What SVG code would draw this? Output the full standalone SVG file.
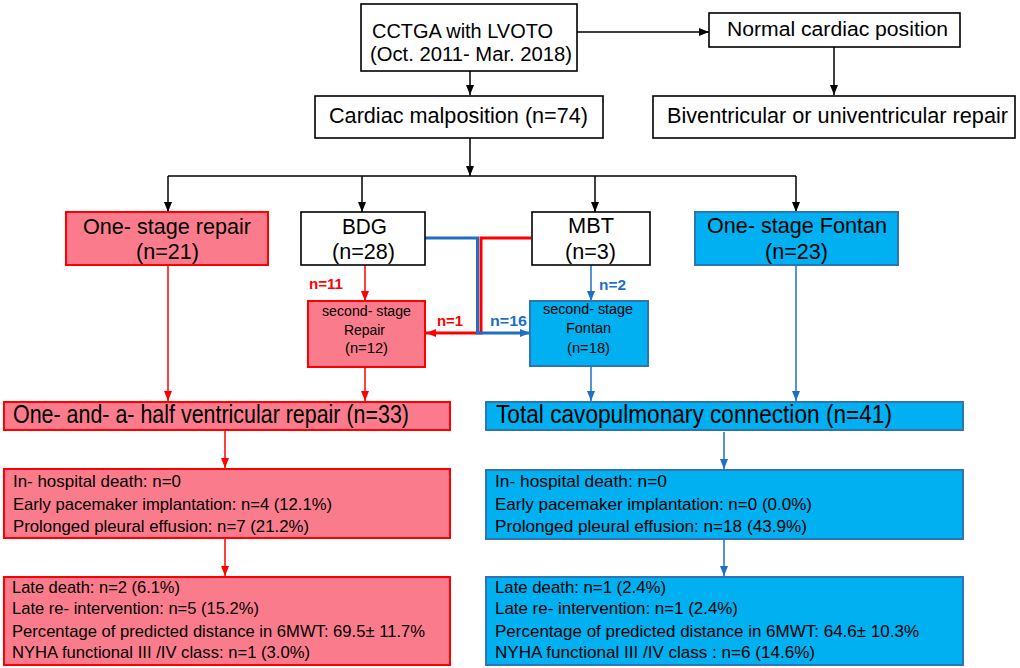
<svg xmlns="http://www.w3.org/2000/svg" width="1020" height="668" viewBox="0 0 1020 668">
<style>
text{font-family:"Liberation Sans",Arial,sans-serif;fill:#000}
.h{font-size:22px}
.t{font-size:20px}
.hh{font-size:25px}
.b{font-size:17px}
.s{font-size:14px}
.lb{font-size:14px;font-weight:bold}
.wbox{fill:#fff;stroke:#000;stroke-width:1.6}
.pbox{fill:#FA7C8C;stroke:#FF0000;stroke-width:2}
.bbox{fill:#00B0F0;stroke:#2E75B6;stroke-width:2}
.k{stroke:#000;stroke-width:1.5;fill:none}
.r{stroke:#FF0000;stroke-width:1.5;fill:none}
.bl{stroke:#1F6FC5;stroke-width:1.5;fill:none}
.r3{stroke:#FF0000;stroke-width:3;fill:none}
.bl3{stroke:#1F6FC5;stroke-width:3;fill:none}
</style>
<defs>
<marker id="ak" markerUnits="userSpaceOnUse" markerWidth="10" markerHeight="10" viewBox="0 0 10 10" refX="10" refY="5" orient="auto"><path d="M0,1 L10,5 L0,9 z" fill="#000"/></marker>
<marker id="ar" markerUnits="userSpaceOnUse" markerWidth="10" markerHeight="10" viewBox="0 0 10 10" refX="10" refY="5" orient="auto"><path d="M0,1 L10,5 L0,9 z" fill="#FF0000"/></marker>
<marker id="ab" markerUnits="userSpaceOnUse" markerWidth="10" markerHeight="10" viewBox="0 0 10 10" refX="10" refY="5" orient="auto"><path d="M0,1 L10,5 L0,9 z" fill="#1F6FC5"/></marker>
</defs>

<g id="connectors">
<path class="k" d="M470,64 V95" marker-end="url(#ak)"/>
<path class="k" d="M577,32 H709" marker-end="url(#ak)"/>
<path class="k" d="M834,47 V95" marker-end="url(#ak)"/>
<path class="k" d="M470,138 V176" marker-end="url(#ak)"/>
<path class="k" d="M168,176 H796"/>
<path class="k" d="M168,176 V212" marker-end="url(#ak)"/>
<path class="k" d="M362,176 V212" marker-end="url(#ak)"/>
<path class="k" d="M595,176 V212" marker-end="url(#ak)"/>
<path class="k" d="M796,176 V212" marker-end="url(#ak)"/>
<path class="r" d="M365,265 V301" marker-end="url(#ar)"/>
<path class="bl" d="M591,265 V301" marker-end="url(#ab)"/>
<path class="r3" d="M531,238 H481 V333 H426" marker-end="url(#ar)"/>
<path class="bl3" d="M425,238 H477.5 V333 H530" marker-end="url(#ab)"/>
<path class="r" d="M168,265 V401" marker-end="url(#ar)"/>
<path class="r" d="M365,367 V401" marker-end="url(#ar)"/>
<path class="bl" d="M591,366 V401" marker-end="url(#ab)"/>
<path class="bl" d="M796,265 V401" marker-end="url(#ab)"/>
<path class="r" d="M225,431 V468" marker-end="url(#ar)"/>
<path class="r" d="M225,539 V576" marker-end="url(#ar)"/>
<path class="bl" d="M724,432 V469" marker-end="url(#ab)"/>
<path class="bl" d="M724,540 V576" marker-end="url(#ab)"/>
<text class="lb" x="309" y="289" style="fill:#FF0000" textLength="34" lengthAdjust="spacingAndGlyphs">n=11</text>
<text class="lb" x="437" y="326" style="fill:#FF0000" textLength="26" lengthAdjust="spacingAndGlyphs">n=1</text>
<text class="lb" x="490" y="326" style="fill:#1F6FC5" textLength="37" lengthAdjust="spacingAndGlyphs">n=16</text>
<text class="lb" x="599" y="290" style="fill:#1F6FC5" textLength="27" lengthAdjust="spacingAndGlyphs">n=2</text>
</g>

<g id="cctga">
<rect class="wbox" x="361" y="4" width="216" height="67"/>
<text class="t" x="372" y="38" textLength="181" lengthAdjust="spacingAndGlyphs">CCTGA with LVOTO</text>
<text class="t" x="370" y="61" textLength="202" lengthAdjust="spacingAndGlyphs">(Oct. 2011- Mar. 2018)</text>
</g>

<g id="normal">
<rect class="wbox" x="709" y="13" width="251" height="34"/>
<text class="t" x="727" y="36" textLength="221" lengthAdjust="spacingAndGlyphs">Normal cardiac position</text>
</g>

<g id="malposition">
<rect class="wbox" x="315" y="96" width="288" height="42"/>
<text class="h" x="329" y="123" textLength="259" lengthAdjust="spacingAndGlyphs">Cardiac malposition (n=74)</text>
</g>

<g id="biventricular">
<rect class="wbox" x="653" y="96" width="362" height="42"/>
<text class="h" x="667" y="123" textLength="341" lengthAdjust="spacingAndGlyphs">Biventricular or univentricular repair</text>
</g>

<g id="one-stage-repair">
<rect class="pbox" x="66" y="212" width="202" height="53"/>
<text class="h" x="83" y="234" textLength="168" lengthAdjust="spacingAndGlyphs">One- stage repair</text>
<text class="h" x="136" y="259" textLength="63" lengthAdjust="spacingAndGlyphs">(n=21)</text>
</g>

<g id="bdg">
<rect class="wbox" x="301" y="212" width="124" height="53"/>
<text class="h" x="342" y="234" textLength="45" lengthAdjust="spacingAndGlyphs">BDG</text>
<text class="h" x="332" y="259" textLength="63" lengthAdjust="spacingAndGlyphs">(n=28)</text>
</g>

<g id="mbt">
<rect class="wbox" x="532" y="212" width="118" height="53"/>
<text class="h" x="568" y="233" textLength="46" lengthAdjust="spacingAndGlyphs">MBT</text>
<text class="h" x="565" y="259" textLength="51" lengthAdjust="spacingAndGlyphs">(n=3)</text>
</g>

<g id="one-stage-fontan">
<rect class="bbox" x="695" y="212" width="203" height="53"/>
<text class="h" x="707" y="233" textLength="180" lengthAdjust="spacingAndGlyphs">One- stage Fontan</text>
<text class="h" x="765" y="259" textLength="63" lengthAdjust="spacingAndGlyphs">(n=23)</text>
</g>

<g id="second-stage-repair">
<rect class="pbox" x="308" y="301" width="117" height="66"/>
<text class="s" x="322" y="316" textLength="89" lengthAdjust="spacingAndGlyphs">second- stage</text>
<text class="s" x="344" y="335" textLength="41" lengthAdjust="spacingAndGlyphs">Repair</text>
<text class="s" x="345" y="353" textLength="43" lengthAdjust="spacingAndGlyphs">(n=12)</text>
</g>

<g id="second-stage-fontan">
<rect class="bbox" x="530" y="301" width="118" height="65"/>
<text class="s" x="543" y="314" textLength="90" lengthAdjust="spacingAndGlyphs">second- stage</text>
<text class="s" x="566" y="333" textLength="45" lengthAdjust="spacingAndGlyphs">Fontan</text>
<text class="s" x="567" y="353" textLength="43" lengthAdjust="spacingAndGlyphs">(n=18)</text>
</g>

<g id="one-and-a-half">
<rect class="pbox" x="4" y="402" width="446" height="28"/>
<text class="hh" x="13" y="423" textLength="396" lengthAdjust="spacingAndGlyphs">One- and- a- half ventricular repair (n=33)</text>
</g>

<g id="tcpc">
<rect class="bbox" x="486" y="402" width="477" height="28"/>
<text class="hh" x="496" y="423" textLength="396" lengthAdjust="spacingAndGlyphs">Total cavopulmonary connection (n=41)</text>
</g>

<g id="early-left">
<rect class="pbox" x="4" y="469" width="446" height="69"/>
<text class="b" x="13" y="487" textLength="168" lengthAdjust="spacingAndGlyphs">In- hospital death: n=0</text>
<text class="b" x="13" y="510" textLength="319" lengthAdjust="spacingAndGlyphs">Early pacemaker implantation: n=4 (12.1%)</text>
<text class="b" x="13" y="532" textLength="296" lengthAdjust="spacingAndGlyphs">Prolonged pleural effusion: n=7 (21.2%)</text>
</g>

<g id="early-right">
<rect class="bbox" x="486" y="470" width="477" height="69"/>
<text class="b" x="495" y="487" textLength="172" lengthAdjust="spacingAndGlyphs">In- hospital death: n=0</text>
<text class="b" x="495" y="510" textLength="317" lengthAdjust="spacingAndGlyphs">Early pacemaker implantation: n=0 (0.0%)</text>
<text class="b" x="495" y="532" textLength="312" lengthAdjust="spacingAndGlyphs">Prolonged pleural effusion: n=18 (43.9%)</text>
</g>

<g id="late-left">
<rect class="pbox" x="4" y="577" width="446" height="88"/>
<text class="b" x="12" y="593" textLength="168" lengthAdjust="spacingAndGlyphs">Late death: n=2 (6.1%)</text>
<text class="b" x="12" y="614" textLength="247" lengthAdjust="spacingAndGlyphs">Late re- intervention: n=5 (15.2%)</text>
<text class="b" x="12" y="637" textLength="413" lengthAdjust="spacingAndGlyphs">Percentage of predicted distance in 6MWT: 69.5± 11.7%</text>
<text class="b" x="12" y="658" textLength="298" lengthAdjust="spacingAndGlyphs">NYHA functional III /IV class: n=1 (3.0%)</text>
</g>

<g id="late-right">
<rect class="bbox" x="486" y="577" width="477" height="88"/>
<text class="b" x="495" y="593" textLength="171" lengthAdjust="spacingAndGlyphs">Late death: n=1 (2.4%)</text>
<text class="b" x="495" y="614" textLength="243" lengthAdjust="spacingAndGlyphs">Late re- intervention: n=1 (2.4%)</text>
<text class="b" x="495" y="637" textLength="424" lengthAdjust="spacingAndGlyphs">Percentage of predicted distance in 6MWT: 64.6± 10.3%</text>
<text class="b" x="495" y="658" textLength="320" lengthAdjust="spacingAndGlyphs">NYHA functional III /IV class : n=6 (14.6%)</text>
</g>
</svg>
